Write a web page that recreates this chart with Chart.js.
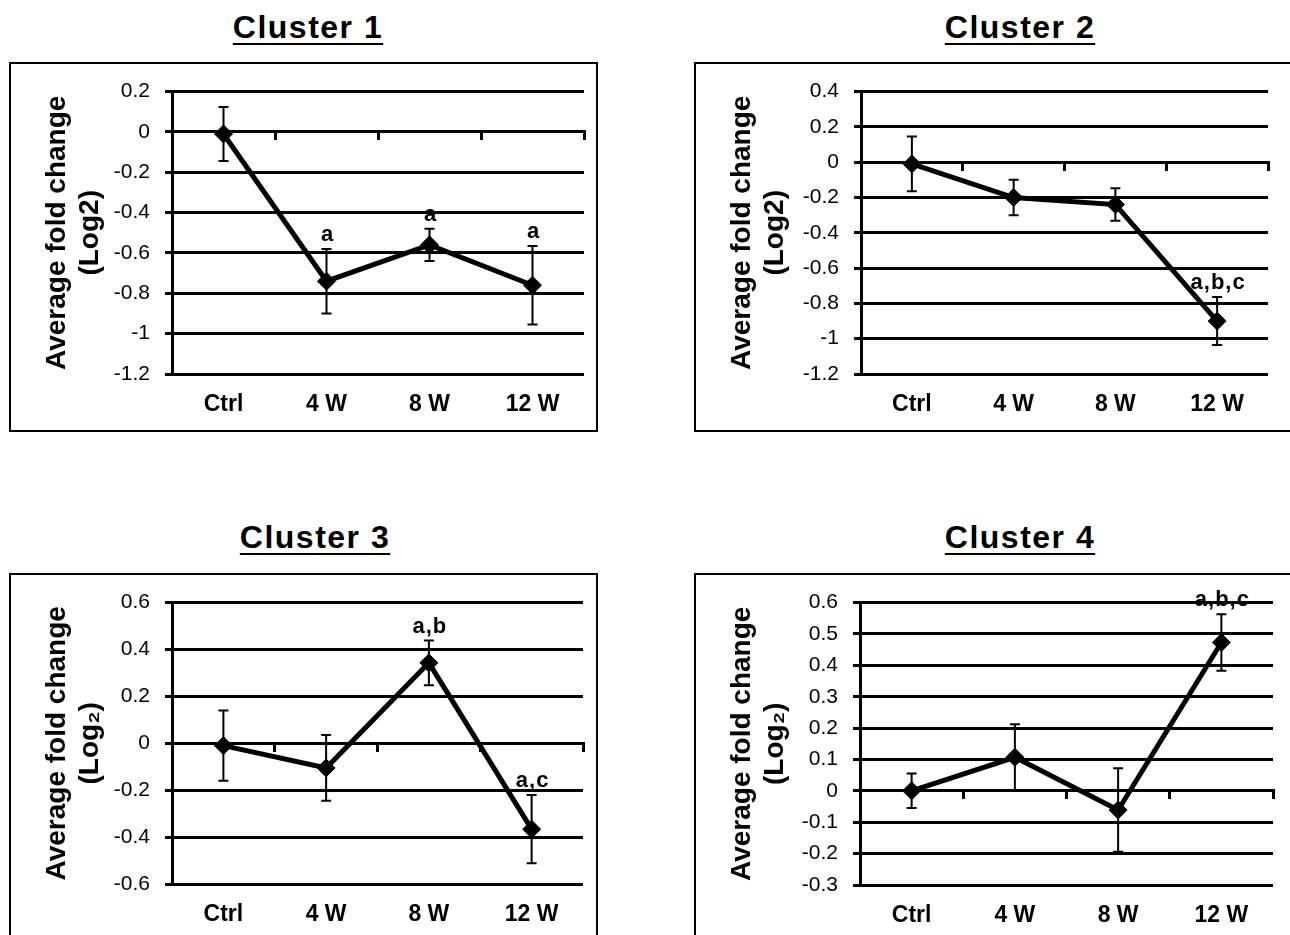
<!DOCTYPE html>
<html>
<head>
<meta charset="utf-8">
<script src="https://cdn.jsdelivr.net/npm/chart.js@4.4.1/dist/chart.umd.min.js"></script>
<style>
  body { margin: 0; background: #fff; width: 1290px; height: 935px; overflow: hidden; position: relative;
         font-family: "Liberation Sans", Arial, sans-serif; }
  .title { position: absolute; width: 400px; text-align: center; font-size: 32px; font-weight: bold;
           line-height: 36px; letter-spacing: 1.5px; text-decoration: underline;
           text-underline-offset: 5px; text-decoration-thickness: 2px; color: #000; }
  .box { position: absolute; border: 2px solid #000; height: 366px; }
  canvas { display: block; }
</style>
</head>
<body>
<div class="title" style="left:108px;top:9px">Cluster 1</div>
<div class="title" style="left:820px;top:9px">Cluster 2</div>
<div class="title" style="left:115px;top:519px">Cluster 3</div>
<div class="title" style="left:820px;top:519px">Cluster 4</div>

<div class="box" style="left:9px;top:62px;width:585px"><canvas id="c1" width="585" height="366"></canvas></div>
<div class="box" style="left:694px;top:62px;width:600px"><canvas id="c2" width="600" height="366"></canvas></div>
<div class="box" style="left:9px;top:573px;width:585px"><canvas id="c3" width="585" height="366"></canvas></div>
<div class="box" style="left:694px;top:573px;width:600px"><canvas id="c4" width="600" height="366"></canvas></div>

<script>
var categories = ['Ctrl', '4 W', '8 W', '12 W'];

var c1Mean = [-0.01, -0.74, -0.56, -0.76];
var c1Err = [0.134, 0.16, 0.08, 0.195];
var c1Notes = ['', 'a', 'a', 'a'];
var c1Ticks = [-1.2, -1, -0.8, -0.6, -0.4, -0.2, 0, 0.2];

var c2Mean = [-0.01, -0.20, -0.24, -0.90];
var c2Err = [0.155, 0.10, 0.092, 0.136];
var c2Notes = ['', '', '', 'a,b,c'];
var c2Ticks = [-1.2, -1, -0.8, -0.6, -0.4, -0.2, 0, 0.2, 0.4];

var c3Mean = [-0.01, -0.105, 0.343, -0.366];
var c3Err = [0.15, 0.14, 0.095, 0.146];
var c3Notes = ['', '', 'a,b', 'a,c'];
var c3Ticks = [-0.6, -0.4, -0.2, 0, 0.2, 0.4, 0.6];

var c4Mean = [0, 0.107, -0.061, 0.473];
var c4Err = [0.055, 0.105, 0.133, 0.09];
var c4Notes = ['', '', '', 'a,b,c'];
var c4Ticks = [-0.3, -0.2, -0.1, 0, 0.1, 0.2, 0.3, 0.4, 0.5, 0.6];

Chart.defaults.font.family = '"Liberation Sans", Arial, sans-serif';
Chart.defaults.color = '#000';

// error bars under the markers, significance letters above the upper cap
var errorBarPlugin = {
  id: 'errorBars',
  beforeDatasetsDraw: function(chart) {
    var ds = chart.data.datasets[0];
    var meta = chart.getDatasetMeta(0);
    var y = chart.scales.y;
    var ctx = chart.ctx;
    ctx.save();
    ctx.strokeStyle = '#000';
    ctx.lineWidth = 2;
    meta.data.forEach(function(pt, i) {
      var top = y.getPixelForValue(ds.data[i] + ds.errors[i]);
      var bot = y.getPixelForValue(ds.data[i] - ds.errors[i]);
      ctx.beginPath();
      ctx.moveTo(pt.x, top); ctx.lineTo(pt.x, bot);
      ctx.moveTo(pt.x - 5, top); ctx.lineTo(pt.x + 5, top);
      ctx.moveTo(pt.x - 5, bot); ctx.lineTo(pt.x + 5, bot);
      ctx.stroke();
    });
    ctx.restore();
  },
  afterDatasetsDraw: function(chart) {
    var ds = chart.data.datasets[0];
    var meta = chart.getDatasetMeta(0);
    var y = chart.scales.y;
    var ctx = chart.ctx;
    ctx.save();
    ctx.fillStyle = '#000';
    ctx.font = 'bold 22px "Liberation Sans", Arial, sans-serif';
    ctx.textAlign = 'center';
    ctx.textBaseline = 'alphabetic';
    if ('letterSpacing' in ctx) ctx.letterSpacing = '1px';
    meta.data.forEach(function(pt, i) {
      if (!ds.notes[i]) return;
      var top = y.getPixelForValue(ds.data[i] + ds.errors[i]);
      ctx.fillText(ds.notes[i], pt.x + 1, top - 8);
    });
    ctx.restore();
  }
};

function makePanel(id, mean, err, notes, ticks, logLabel, area) {
  var canvas = document.getElementById(id);
  var W = canvas.width, H = canvas.height;
  var xHeight = 50;
  return new Chart(canvas, {
    type: 'line',
    data: {
      labels: categories,
      datasets: [{
        data: mean,
        errors: err,
        notes: notes,
        borderColor: '#000',
        borderWidth: 5,
        tension: 0,
        pointStyle: 'rectRot',
        pointRadius: 9,
        pointBackgroundColor: '#000',
        pointBorderColor: '#000',
        pointBorderWidth: 1,
        clip: false
      }]
    },
    options: {
      responsive: false,
      animation: false,
      events: [],
      layout: { padding: { left: 0, top: area.top, right: W - area.right, bottom: H - area.bottom - xHeight } },
      plugins: { legend: { display: false }, tooltip: { enabled: false } },
      scales: {
        x: {
          type: 'category',
          offset: true,
          grid: { display: false, drawTicks: false },
          border: { display: false },
          ticks: { font: { size: 23, weight: 'bold' }, padding: 17, maxRotation: 0, autoSkip: false },
          afterFit: function(s) { s.height = xHeight; }
        },
        x2: {
          type: 'category',
          position: { y: 0 },
          offset: true,
          grid: { offset: true, drawOnChartArea: false, drawTicks: true, tickLength: 7, color: '#000', lineWidth: 3 },
          border: { display: true, color: '#000', width: 3 },
          ticks: { display: false }
        },
        y: {
          min: ticks[0],
          max: ticks[ticks.length - 1],
          afterBuildTicks: function(s) { s.ticks = ticks.map(function(v) { return { value: v }; }); },
          grid: { color: '#000', lineWidth: 3, tickLength: 7 },
          border: { display: true, color: '#000', width: 3 },
          ticks: { font: { size: 21 }, padding: 15, autoSkip: false, callback: function(v) { return String(v); } },
          title: {
            display: true,
            text: ['Average fold change', logLabel],
            font: { size: 28, weight: 'bold', lineHeight: '33px' },
            padding: { top: 30, bottom: 0 }
          },
          afterFit: function(s) { s.width = area.left; }
        }
      }
    },
    plugins: [errorBarPlugin]
  });
}

makePanel('c1', c1Mean, c1Err, c1Notes, c1Ticks, '(Log2)', { left: 161, right: 573, top: 25, bottom: 310 });
makePanel('c2', c2Mean, c2Err, c2Notes, c2Ticks, '(Log2)', { left: 165, right: 572, top: 25, bottom: 310 });
makePanel('c3', c3Mean, c3Err, c3Notes, c3Ticks, '(Log\u2082)', { left: 161, right: 572, top: 24, bottom: 309 });
makePanel('c4', c4Mean, c4Err, c4Notes, c4Ticks, '(Log\u2082)', { left: 164, right: 577, top: 24, bottom: 310 });
</script>
</body>
</html>
